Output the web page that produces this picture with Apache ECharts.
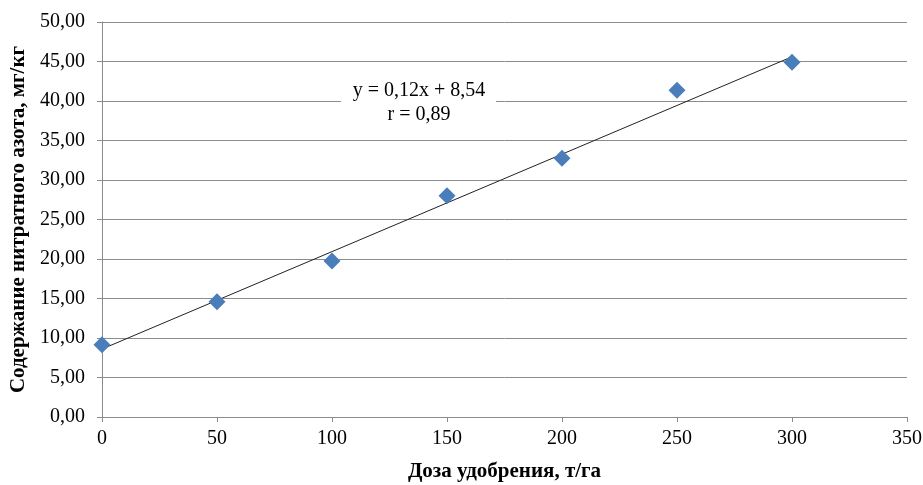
<!DOCTYPE html>
<html><head><meta charset="utf-8">
<script src="https://cdn.jsdelivr.net/npm/echarts@6/dist/echarts.min.js"></script>
<style>html,body{margin:0;padding:0;background:#fff}#c{width:923px;height:485px}</style>
</head><body><div id="c"></div>
<script>
const doses = [0, 50, 100, 150, 200, 250, 300];
const nitrate = [9.15, 14.6, 19.75, 28.0, 32.75, 41.35, 44.9];
const trendX = [0, 300];
const trendY = [8.6, 45.6];
const xTitle = 'Доза удобрения, т/га';
const yTitle = 'Содержание нитратного азота, мг/кг';
const eqText = 'y = 0,12x + 8,54';
const rText = 'r = 0,89';

const font = '"Liberation Serif", "Times New Roman", serif';
const chart = echarts.init(document.getElementById('c'));
chart.setOption({
  animation: false,
  backgroundColor: '#fff',
  grid: { left: 102, right: 16, top: 22, bottom: 68, outerBoundsMode: 'none', containLabel: false },
  xAxis: {
    type: 'value', min: 0, max: 350, interval: 50,
    name: xTitle, nameLocation: 'middle', nameGap: 44,
    nameTextStyle: { fontFamily: font, fontSize: 21, fontWeight: 'bold', color: '#000' },
    axisLine: { show: true, lineStyle: { color: '#8c8c8c' } },
    axisTick: { show: true, length: 5, lineStyle: { color: '#8c8c8c' } },
    axisLabel: { fontFamily: font, fontSize: 20, color: '#000', margin: 12 },
    splitLine: { show: false }
  },
  yAxis: {
    type: 'value', min: 0, max: 50, interval: 5,
    name: yTitle, nameLocation: 'middle', nameGap: 72, nameRotate: 90,
    nameTextStyle: { fontFamily: font, fontSize: 21, fontWeight: 'bold', color: '#000' },
    axisLine: { show: true, lineStyle: { color: '#8c8c8c' } },
    axisTick: { show: true, length: 5, lineStyle: { color: '#8c8c8c' } },
    axisLabel: { fontFamily: font, fontSize: 20, color: '#000', margin: 17,
      formatter: v => v.toFixed(2).replace('.', ',') },
    splitLine: { show: true, lineStyle: { color: '#8c8c8c', width: 1 } }
  },
  series: [
    {
      type: 'line', data: trendX.map((x, i) => [x, trendY[i]]),
      symbol: 'none', lineStyle: { color: '#222', width: 1 }, z: 3
    },
    {
      type: 'scatter', data: doses.map((x, i) => [x, nitrate[i]]),
      symbol: 'diamond', symbolSize: 17,
      itemStyle: { color: '#4a7ebb', opacity: 1 }, z: 4
    }
  ],
  graphic: [
    {
      type: 'rect', shape: { x: 341, y: 78, width: 155, height: 50 },
      style: { fill: '#fff' }, z: 10
    },
    {
      type: 'text', x: 419, y: 79, z: 11,
      style: {
        text: eqText + '\n' + rText, fontFamily: font, fontSize: 20, fill: '#000',
        align: 'center', verticalAlign: 'top', lineHeight: 24
      }
    }
  ]
});
</script></body></html>
